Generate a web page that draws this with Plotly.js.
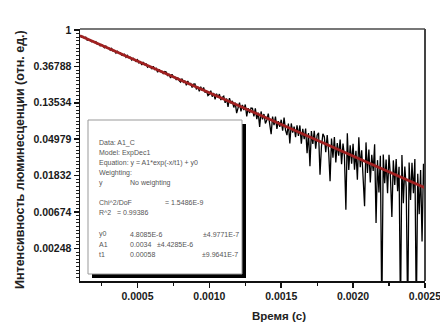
<!DOCTYPE html>
<html>
<head>
<meta charset="utf-8">
<script src="https://cdn.plot.ly/plotly-3.0.1.min.js"></script>
<style>html,body{margin:0;padding:0;background:#fff;}#chart{width:440px;height:323px;}</style>
</head>
<body>
<div id="chart"></div>
<script>
// ---- data ----
const timeStart = 0.0001;       // s
const timeStep = 0.00001;       // s
const intensity = [
 0.861,0.820,0.839,0.801,0.819,0.758,0.768,0.769,0.726,0.736,
 0.709,0.725,0.678,0.687,0.648,0.669,0.645,0.615,0.642,0.606,
 0.614,0.574,0.604,0.560,0.568,0.530,0.558,0.528,0.534,0.500,
 0.496,0.512,0.474,0.499,0.467,0.473,0.438,0.461,0.440,0.420,
 0.442,0.405,0.418,0.383,0.416,0.386,0.394,0.361,0.374,0.356,
 0.346,0.369,0.338,0.349,0.313,0.340,0.319,0.322,0.299,0.320,
 0.315,0.283,0.299,0.268,0.297,0.272,0.275,0.253,0.271,0.249,
 0.239,0.263,0.238,0.249,0.219,0.247,0.225,0.230,0.206,0.226,
 0.227,0.196,0.211,0.185,0.210,0.188,0.206,0.179,0.188,0.165,
 0.171,0.189,0.160,0.177,0.149,0.174,0.157,0.172,0.146,0.157,
 0.162,0.135,0.152,0.121,0.154,0.133,0.143,0.119,0.136,0.102,
 0.118,0.136,0.107,0.128,0.111,0.129,0.093,0.117,0.102,0.117,
 0.116,0.0935,0.116,0.0863,0.1035,0.0698,0.1066,0.0861,0.0994,0.0768,
 0.0844,0.1004,0.0755,0.0573,0.0927,0.0733,0.0928,0.0660,0.0819,0.0698,
 0.0850,0.0630,0.0900,0.0637,0.0557,0.0766,0.0444,0.0767,0.0597,0.0702,
 0.0527,0.0727,0.0545,0.0726,0.0439,0.0661,0.0497,0.0666,0.0339,0.0590,
 0.0237,0.0622,0.0438,0.0625,0.0384,0.0555,0.0594,0.0187,0.0404,0.0577,
 0.0532,0.0348,0.0556,0.0357,0.0157,0.0508,0.0299,0.0529,0.0262,0.0447,
 0.0316,0.0494,0.0251,0.0441,0.0312,0.00716,0.0586,0.0214,0.0421,0.0254,
 0.0438,0.0216,0.0362,0.0163,0.0526,0.0230,0.0367,0.0166,0.00789,0.0456,
 0.0197,0.0374,0.0152,0.0325,0.0208,0.0434,0.00498,0.0280,0.0115,0.0315,
 0.0004,0.0326,0.0149,0.0284,0.0113,0.0325,0.0179,0.00588,0.0278,0.0142,
 0.0288,0.0119,0.0234,0.0004,0.0322,0.00855,0.0235,0.0132,0.0004,0.0262,
 0.00936,0.0260,0.0113,0.0289,0.0004,0.0193,0.00635,0.0214,0.00299,0.0253,
 0.0111
];
const fitStart = 0.0001;
const fitStep = 0.0001;
const fitValues = [0.852,0.716,0.602,0.506,0.425,0.357,0.300,0.252,0.212,0.178,
 0.1497,0.1258,0.1057,0.0888,0.0746,0.0627,0.0527,0.0443,0.0372,0.0313,
 0.0263,0.0221,0.0186,0.0156,0.0131];

const yTickVals = [1, 0.36788, 0.13534, 0.04979, 0.01832, 0.00674, 0.00248];
const yTickText = ["1", "0.36788", "0.13534", "0.04979", "0.01832", "0.00674", "0.00248"];
const xTickVals = [0.0005, 0.0010, 0.0015, 0.0020, 0.0025];
const xTickText = ["0.0005", "0.0010", "0.0015", "0.0020", "0.0025"];
const xMinorVals = [0.00025, 0.00075, 0.00125, 0.00175, 0.00225];

const yTitle = "Интенсивность люминесценции (отн. ед.)";
const xTitle = "Время (с)";

const boxLines = [
  ["Data: A1_C"], ["Model: ExpDec1"], ["Equation: y = A1*exp(-x/t1) + y0"], ["Weighting:"],
  ["y", "No weighting"], ["Chi^2/DoF", "= 1.5486E-9"], ["R^2", "= 0.99386"],
  ["y0", "4.8085E-6", "±4.9771E-7"], ["A1", "0.0034", "±4.4285E-6"], ["t1", "0.00058", "±9.9641E-7"]
];

// ---- layout geometry (pixels) ----
const W = 440, H = 323;
const L = 80, R = 425, T = 29, B = 281;
const px = x => (x - L) / (R - L);
const py = y => (B - y) / (B - T);

// minor y ticks: every 0.1 in ln units
const yMinor = [];
for (let i = 1; i < 70; i++) { if (i % 10 !== 0) yMinor.push(Math.exp(-i / 10)); }

const boxFont = {family: "Liberation Sans, Arial, sans-serif", size: 7, color: "#555"};
const rowsY = [143, 153, 163, 173, 183, 202, 212, 234, 244, 254];
const colsX = [
  [97], [97], [97], [97], [97, 128], [97, 163], [97, 115],
  [97, 128, 201], [97, 128, 155], [97, 128, 200]
];
const annotations = [];
boxLines.forEach((row, i) => {
  row.forEach((t, j) => {
    annotations.push({xref: "paper", yref: "paper", x: px(colsX[i][j]), y: py(rowsY[i]),
      xanchor: "left", yanchor: "middle", text: t, showarrow: false, font: boxFont});
  });
});
annotations.push({xref: "paper", yref: "paper", x: px(20), y: py(160), textangle: -90,
  text: "<b>" + yTitle + "</b>", showarrow: false, xanchor: "center", yanchor: "middle",
  font: {family: "Liberation Sans, Arial, sans-serif", size: 12.5, color: "#222"}});
annotations.push({xref: "paper", yref: "paper", x: px(279), y: py(316),
  text: "<b>" + xTitle + "</b>", showarrow: false, xanchor: "center", yanchor: "middle",
  font: {family: "Liberation Sans, Arial, sans-serif", size: 11.5, color: "#222"}});

const shapes = [
  {type: "rect", xref: "paper", yref: "paper", x0: px(92), x1: px(246), y0: py(278), y1: py(124),
   fillcolor: "#000", line: {width: 0}, layer: "above"},
  {type: "rect", xref: "paper", yref: "paper", x0: px(88), x1: px(242), y0: py(274), y1: py(120),
   fillcolor: "#fff", line: {color: "#999", width: 1}, layer: "above"},
  {type: "line", xref: "paper", yref: "paper", x0: 0, x1: 1, y0: 1, y1: 1,
   line: {color: "#777", width: 2}, layer: "above"},
  {type: "line", xref: "paper", yref: "paper", x0: 1, x1: 1, y0: 0, y1: 1,
   line: {color: "#444", width: 2}, layer: "above"}
];

const tickFont = {family: "Liberation Sans, Arial, sans-serif", size: 10.5, color: "#1a1a1a", weight: "bold"};

const traces = [
  {type: "scatter", mode: "lines", x0: timeStart, dx: timeStep, y: intensity,
   line: {color: "#000", width: 1.3}, hoverinfo: "skip"},
  {type: "scatter", mode: "lines", x0: fitStart, dx: fitStep, y: fitValues,
   line: {color: "#a02020", width: 2.8}, hoverinfo: "skip"}
];

const layout = {
  width: W, height: H,
  margin: {l: L, r: W - R, t: T, b: H - B, pad: 0},
  paper_bgcolor: "#fff", plot_bgcolor: "#fff",
  showlegend: false,
  xaxis: {
    range: [0.0001, 0.0025005], showgrid: false, zeroline: false,
    showline: true, linecolor: "#111", linewidth: 1.5, mirror: false,
    tickmode: "array", tickvals: xTickVals, ticktext: xTickText,
    ticks: "outside", ticklen: 5, tickwidth: 1.5, tickcolor: "#111",
    tickfont: tickFont, ticklabeloverflow: "allow",
    minor: {tickmode: "array", tickvals: xMinorVals, ticks: "outside", ticklen: 3, tickwidth: 1.2, tickcolor: "#111", showgrid: false}
  },
  yaxis: {
    type: "log", range: [-2.995, 0.012], showgrid: false, zeroline: false,
    showline: true, linecolor: "#111", linewidth: 1.5, mirror: false,
    tickmode: "array", tickvals: yTickVals, ticktext: yTickText,
    ticks: "outside", ticklen: 5, tickwidth: 1.5, tickcolor: "#111",
    tickfont: tickFont,
    minor: {tickmode: "array", tickvals: yMinor, ticks: "outside", ticklen: 3, tickwidth: 1, tickcolor: "#222", showgrid: false}
  },
  shapes: shapes,
  annotations: annotations
};

Plotly.newPlot("chart", traces, layout, {staticPlot: true, displayModeBar: false});
</script>
</body>
</html>
